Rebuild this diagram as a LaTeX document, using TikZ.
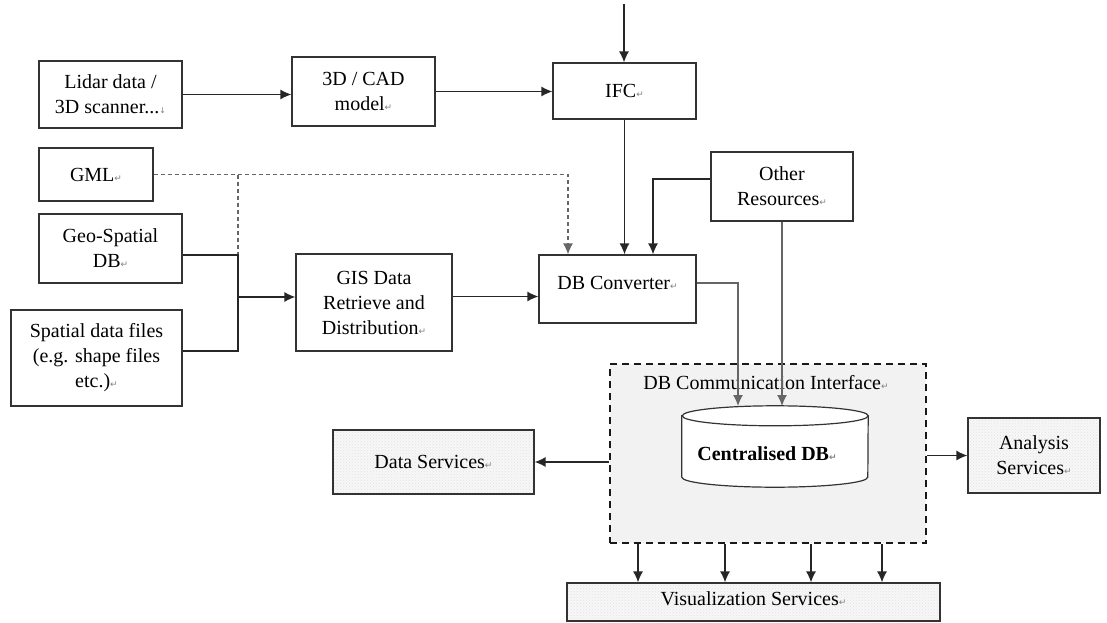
\documentclass[tikz,border=0pt]{standalone}
\usepackage{fontspec}
\setmainfont{LiberationSerif}[Extension=.ttf, UprightFont=*-Regular, BoldFont=*-Bold, ItalicFont=*-Italic, BoldItalicFont=*-BoldItalic]
\newfontfamily\markfont{DejaVu Sans}
\usetikzlibrary{arrows.meta,patterns,calc}
\newcommand\pmark{{\markfont\fontsize{9}{9}\selectfont\textcolor{gray}{↵}}}
\newcommand\lmark{{\markfont\fontsize{8}{8}\selectfont\textcolor{gray}{↓}}}
\begin{document}
\begin{tikzpicture}[x=1pt,y=-1pt,
  every node/.style={font=\rmfamily\fontsize{20}{25}\selectfont},
  box/.style={draw=black!80, line width=1.2pt, align=center, inner sep=0pt, text=black},
  serv/.style={box, preaction={fill=black!3}, pattern=crosshatch dots, pattern color=black!11},
  conn/.style={draw=black!85, line width=1.3pt, -{Latex[length=11pt,width=10pt]}},
  plain/.style={draw=black!85, line width=1.3pt},
  gconn/.style={draw=black!60, line width=1.3pt, -{Latex[length=11pt,width=10pt]}},
  dconn/.style={gconn, dash pattern=on 4pt off 3pt},
  dline/.style={draw=black!60, line width=1.3pt, dash pattern=on 4pt off 3pt},
]
\useasboundingbox (0,0) rectangle (1107,623);

% input boxes
\node[box, minimum width=143pt, minimum height=67pt] (lidar) at (110.5,94.5) {Lidar data /\\3D scanner...\lmark};
\node[box, minimum width=143pt, minimum height=69pt] (cad) at (363.5,91.5) {3D / CAD\\model\pmark};
\node[box, minimum width=143pt, minimum height=56pt] (ifc) at (624.5,91) {IFC\pmark};
\node[box, minimum width=114pt, minimum height=53pt] (gml) at (96,174.5) {GML\pmark};
\node[box, minimum width=143pt, minimum height=69pt] (geo) at (110.5,248.5) {Geo-Spatial\\DB\pmark};
\node[box, minimum width=171pt, minimum height=96pt] (spatial) at (96.5,358) {Spatial data files\\(e.g. shape files\\etc.)\pmark};
\node[box, minimum width=156pt, minimum height=97pt] (gis) at (374,302.5) {GIS Data\\Retrieve and\\Distribution\pmark};
\node[box, minimum width=157pt, text height=34pt, text depth=34pt] (dbc) at (617.5,289) {DB Converter\pmark};
\node[box, minimum width=142pt, minimum height=69pt] (other) at (782,186.5) {Other\\Resources\pmark};

% communication interface
\node[draw=black!90, fill=black!5, line width=2pt, dash pattern=on 7pt off 5pt,
      minimum width=316pt, minimum height=179pt] (dci) at (768,453.5) {};
\node (dcilabel) at (766,383) {DB Communication Interface\pmark};

% centralised DB cylinder
\node[minimum width=186pt, minimum height=61pt, inner sep=0pt] (db) at (775,446.5) {};
\draw[draw=black!80, line width=1.2pt, fill=white]
  (db.north west) -- (db.south west)
  arc[start angle=180, end angle=360, x radius=93pt, y radius=10pt]
  -- (db.north east)
  arc[start angle=0, end angle=180, x radius=93pt, y radius=10pt] -- cycle;
\draw[draw=black!80, line width=1.2pt] (db.north east)
  arc[start angle=0, end angle=-180, x radius=93pt, y radius=10pt];
\node[font=\rmfamily\fontsize{20}{25}\selectfont\bfseries] (dbtext) at (767,454) {Centralised DB\pmark};
\coordinate (dbtop) at (775,406);

% services
\node[serv, minimum width=201pt, minimum height=64pt] (dataserv) at (433.5,462) {Data Services\pmark};
\node[serv, minimum width=132pt, minimum height=75pt] (analysis) at (1034,455.5) {Analysis\\Services\pmark};
\node[serv, minimum width=373pt, minimum height=38pt, text depth=6pt] (vis) at (753.5,602) {Visualization Services\pmark};

% connectors top row
\coordinate (topin) at (624,4);
\draw[conn] (topin) -- (topin |- ifc.north);
\draw[conn] (lidar.east) -- (cad.west |- lidar.east);
\draw[conn] (cad.east) -- (ifc.west |- cad.east);
\draw[conn] (ifc.south) -- (ifc.south |- dbc.north);
\draw[conn] ($(other.west)+(0,-7.5)$) -| ([xshift=35.5pt]dbc.north);

% junction of GIS sources
\coordinate (jx) at (238,297);
\draw[dconn] (gml.east) -| ([xshift=-49.5pt]dbc.north);
\draw[dline] (gml.east -| jx) -- ($(geo.east -| jx)+(0,6.5)$);
\draw[plain] ($(geo.east)+(0,6.5)$) -- ($(geo.east -| jx)+(0,6.5)$) -- ($(spatial.east -| jx)+(0,-7)$) -- ($(spatial.east)+(0,-7)$);
\draw[conn] (jx) -- (gis.west |- jx);
\draw[conn] ($(gis.east)+(0,-6)$) -- ($(dbc.west |- gis.east)+(0,-6)$);

% into the centralised DB
\draw[gconn] ($(dbc.east)+(0,-6)$) -| ([xshift=-37pt]dbtop);
\draw[gconn] (other.south) -- (other.south |- dbtop);

% out of the interface
\draw[conn] (dci.west |- dataserv.east) -- (dataserv.east);
\draw[conn] (dci.east |- analysis.west) -- (analysis.west);
\foreach \xx in {638,725,811,882} {
  \draw[conn] (dci.south -| \xx,0) -- (vis.north -| \xx,0);
}
\end{tikzpicture}
\end{document}
